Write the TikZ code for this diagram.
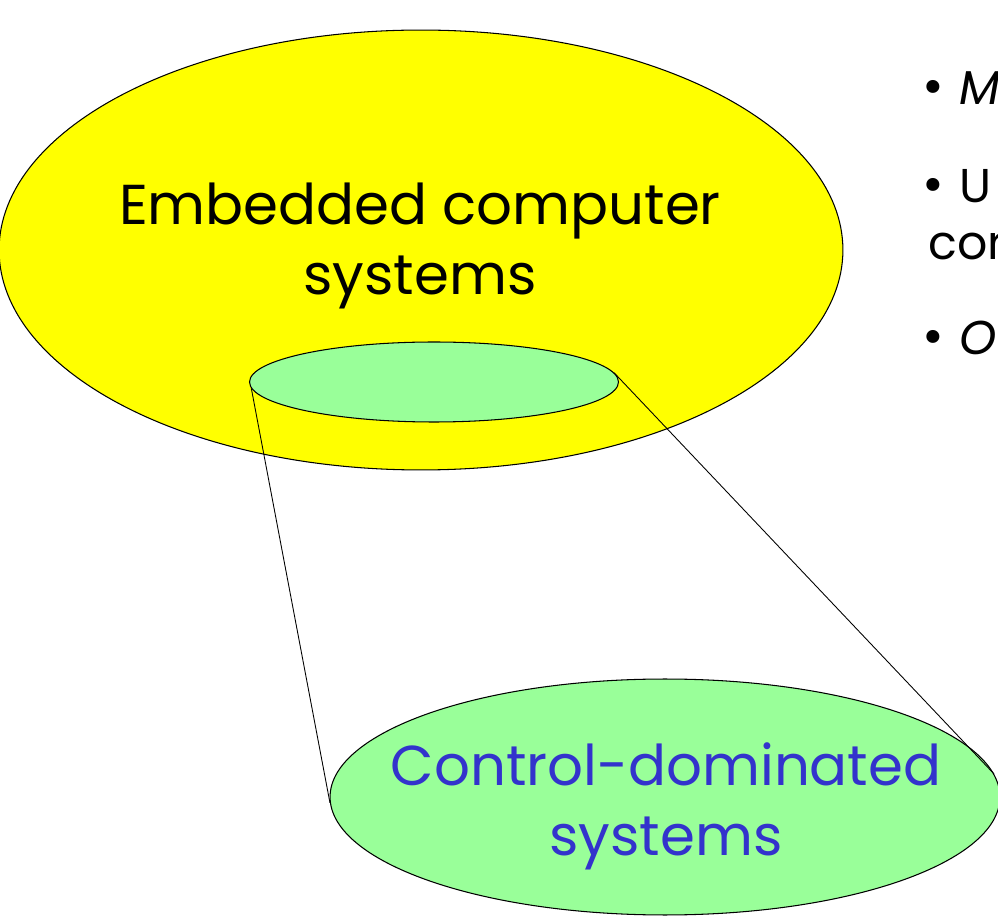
\documentclass[tikz,border=0pt]{standalone}
\usepackage{fontspec}
\setmainfont{Poppins}
\usetikzlibrary{shapes.geometric, positioning, calc}
\definecolor{cYellow}{RGB}{255,255,0}
\definecolor{cMint}{RGB}{153,255,153}
\definecolor{cBlueText}{RGB}{51,51,204}
\newcommand{\listdot}{{\fontsize{30}{30}\selectfont\textbullet}\hspace{0.3cm}}
\tikzset{
	setblob/.style={ellipse, draw=black, line width=0.6pt, inner sep=0pt},
	outerset/.style={setblob, fill=cYellow, minimum width=16.88cm, minimum height=8.8cm},
	innerset/.style={setblob, fill=cMint, minimum width=7.38cm, minimum height=1.6cm},
	zoomset/.style={setblob, fill=cMint, minimum width=13.4cm, minimum height=4.72cm},
	bigtext/.style={font=\fontsize{32}{40}\selectfont, align=center},
	sidetext/.style={font=\fontsize{27}{30}\selectfont, anchor=west, inner sep=0pt},
	zoomline/.style={draw=black, line width=0.5pt},
}
\begin{document}
\begin{tikzpicture}[x=0.02cm, y=-0.02cm]
			\useasboundingbox (0,0) rectangle (998,918);
			\node[outerset] (emb) at (421,250) {};
			\node[bigtext] (embtext) at (420,246) {Embedded computer\\systems};
			\node[innerset] (ctrl) at (434,382) {};
			\node[zoomset] (sub) at (665,797) {};
			\node[bigtext, text=cBlueText] (subtext) at (666,806) {Control-dominated\\systems};
			\draw[zoomline] (ctrl.182.5) -- (sub.181.4);
			\draw[zoomline] (ctrl.3) -- (sub.4.6);
			% cut-off list on the right
			\node[sidetext] (itemA) at (922,88) {\listdot\textit{M}};
			\node[sidetext] (itemB) at (922,186) {\listdot U};
			\node[sidetext] (itemBb) at (928,246) {cor};
			\node[sidetext] (itemC) at (922,338) {\listdot\textit{O}};
		\end{tikzpicture}
\end{document}
